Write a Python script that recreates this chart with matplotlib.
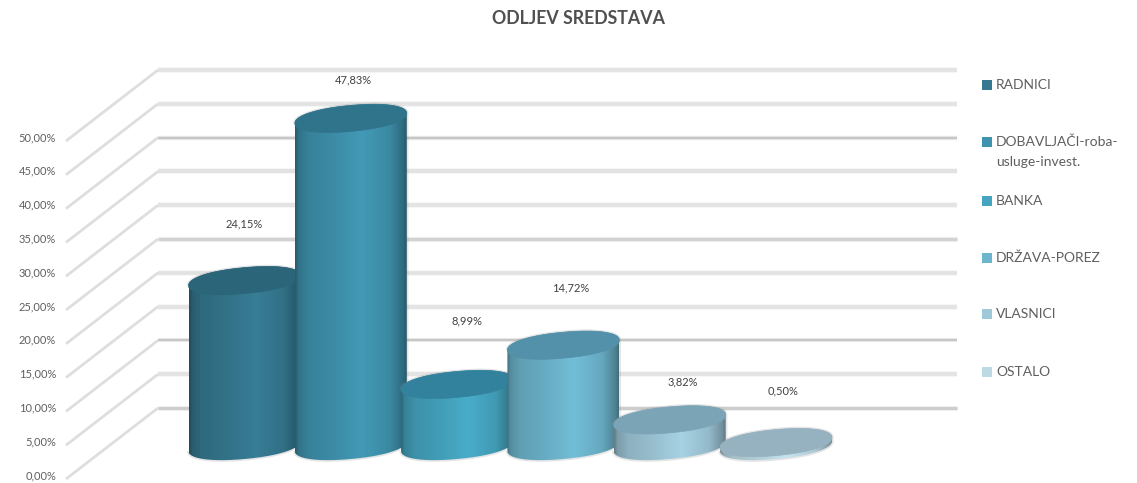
import matplotlib
matplotlib.use("Agg")
import matplotlib.pyplot as plt
import matplotlib.colors as mcolors
from matplotlib.patches import PathPatch, Rectangle
from matplotlib.path import Path
import numpy as np

plt.rcParams['font.family'] = ['Lato', 'DejaVu Sans']

# data
kategorije = ["RADNICI", "DOBAVLJAČI-roba-\nusluge-invest.", "BANKA", "DRŽAVA-POREZ", "VLASNICI", "OSTALO"]
vrijednosti = [24.15, 47.83, 8.99, 14.72, 3.82, 0.50]
oznake = ["24,15%", "47,83%", "8,99%", "14,72%", "3,82%", "0,50%"]
tick_vrijednosti = [0, 5, 10, 15, 20, 25, 30, 35, 40, 45, 50]
tick_oznake = ["0,00%", "5,00%", "10,00%", "15,00%", "20,00%", "25,00%", "30,00%", "35,00%", "40,00%", "45,00%", "50,00%"]
naslov = "ODLJEV SREDSTAVA"

# colours
boje = ["#35788f", "#3f93ae", "#45a5c0", "#6db5cd", "#9fc8d9", "#bcd9e4"]
boje_vrh = ["#2b6579", "#30748c", "#33829d", "#5391aa", "#7ca4b7", "#96b2c0"]
siva_tekst = "#5f5f5f"

W, H = 1137, 483
fig = plt.figure(figsize=(W / 100, H / 100), dpi=100)

# wall axes: x in pixels, y in percent
wall_scale = 6.76
wall_y0 = 408
ax_wall = fig.add_axes([0, 0, 1, 1])
ax_wall.set_xlim(0, W)
ax_wall.set_ylim((wall_y0 - H) / wall_scale, wall_y0 / wall_scale)
ax_wall.axis("off")

back_x, right_x, front_x = 158, 957, 66
front_dy = 71 / wall_scale
stil = [("#cdcdcd", 3.0), ("#e4e4e4", 4.0), ("#c6c6c6", 2.2), ("#e4e4e4", 4.0), ("#e2e2e2", 3.6),
        ("#d2d2d2", 3.2), ("#e4e4e4", 4.0), ("#e2e2e2", 4.0), ("#c6c6c6", 2.4), ("#e4e4e4", 4.0), ("#e4e4e4", 4.0)]
for v, lab, (c, lw) in zip(tick_vrijednosti, tick_oznake, stil):
    ax_wall.plot([back_x, right_x], [v, v], color=c, lw=lw * 0.72, solid_capstyle="butt", zorder=1)
    ax_wall.plot([back_x, right_x], [v, v], color=c, lw=(lw + 2) * 0.72, alpha=0.3, solid_capstyle="butt", zorder=1)
    ax_wall.plot([front_x, back_x], [v - front_dy, v], color="#dedede", lw=2.0, solid_capstyle="butt", zorder=1)
    ax_wall.text(56, v - front_dy + 3.5 / wall_scale, lab, ha="right", va="center",
                 fontsize=8, color=siva_tekst)

# bar axes: x in categories, y in percent
bar_scale = 6.85
base_y = 446
x0, dx = 244.5, 106.3
ax_bar = fig.add_axes([0, 0, 1, 1])
ax_bar.patch.set_alpha(0)
ax_bar.set_xlim(-x0 / dx, (W - x0) / dx)
ax_bar.set_ylim((base_y - H) / bar_scale, base_y / bar_scale)
ax_bar.axis("off")

a = 56 / dx
b = 13 / bar_scale
s = 5 / bar_scale
e = 0.92  # slightly rounder than a plain ellipse
profil_t = [0, 0.03, 0.12, 0.4, 0.6, 0.85, 0.97, 1]
profil_k = [0.62, 0.78, 0.88, 0.97, 1.05, 0.93, 0.72, 0.6]
x_grad = np.linspace(0, 1, 200)


def kruzni(t):
    c_t, s_t = np.cos(t), np.sin(t)
    return np.sign(c_t) * np.abs(c_t) ** e, np.sign(s_t) * np.abs(s_t) ** e


t_dolje = np.linspace(np.pi, 2 * np.pi, 80)
t_gore = np.linspace(0, np.pi, 80)

for i, v in enumerate(vrijednosti):
    # body outline: front of the lower ellipse, back of the upper one
    cd, sd = kruzni(t_dolje)
    cg, sg = kruzni(t_gore)
    xs = np.r_[i + a * cd, i + a * cg]
    ys = np.r_[b * sd + s * cd, v + b * sg + s * cg]
    path = Path(np.c_[xs, ys], closed=False)
    z = 10 + i * 3

    ax_bar.add_patch(PathPatch(path, fc="none", ec="#8a8a8a", lw=2.4, alpha=0.22, zorder=z))

    base = np.array(mcolors.to_rgb(boje[i]))
    k = np.interp(x_grad, profil_t, profil_k)
    img = np.clip(base[None, None, :] * k[None, :, None], 0, 1)
    im = ax_bar.imshow(img, extent=[i - a, i + a, -b - s, v + b + s], aspect="auto",
                       origin="lower", zorder=z + 1, interpolation="bilinear")
    clip = PathPatch(path, fc="none", ec="none", zorder=z + 1)
    ax_bar.add_patch(clip)
    im.set_clip_path(clip)

    # top ellipse
    ct, st = kruzni(np.linspace(0, 2 * np.pi, 160))
    ax_bar.fill(i + a * ct, v + b * st + s * ct, fc=boje_vrh[i], ec=boje_vrh[i],
                lw=0.5, zorder=z + 2)

ax_bar.set_xlim(-x0 / dx, (W - x0) / dx)
ax_bar.set_ylim((base_y - H) / bar_scale, base_y / bar_scale)

# text layer in pixel coordinates
ax_txt = fig.add_axes([0, 0, 1, 1])
ax_txt.patch.set_alpha(0)
ax_txt.set_xlim(0, W)
ax_txt.set_ylim(H, 0)
ax_txt.axis("off")

ax_txt.text(578.5, 18, naslov, ha="center", va="center", fontsize=12.8, fontweight="bold", color="#505050")

oznake_xy = [(244, 224), (353, 80), (467, 321), (571, 288), (683, 382), (783, 391)]
for lab, (px, py) in zip(oznake, oznake_xy):
    ax_txt.text(px, py, lab, ha="center", va="center", fontsize=8, color="#404040")

legenda_y = [85, 142, 201, 258, 314, 372]
for lab, c, py in zip(kategorije, boje, legenda_y):
    ax_txt.add_patch(Rectangle((982, py - 5), 10, 10, fc=c, ec="none"))
    redovi = lab.split("\n")
    for j, red in enumerate(redovi):
        ax_txt.text(996, py + j * 20.5, red, ha="left", va="center", fontsize=10, color=siva_tekst)

fig.savefig("out.png", dpi=100)
